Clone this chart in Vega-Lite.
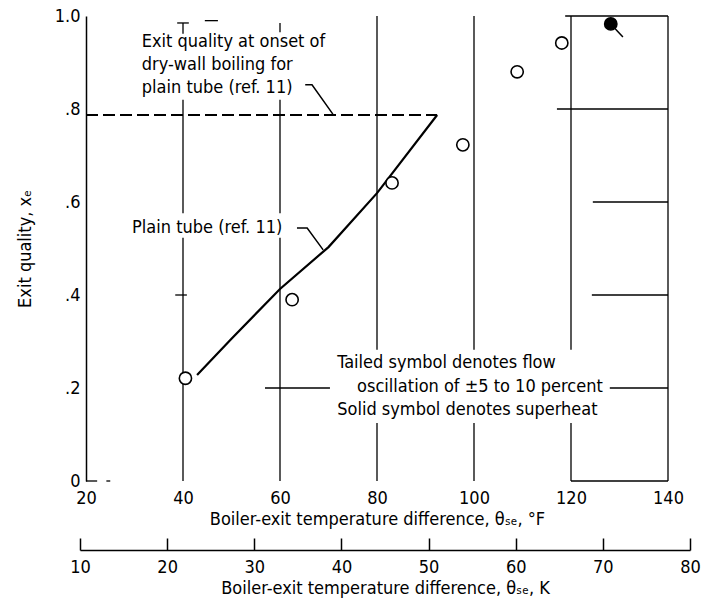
{
  "$schema": "https://vega.github.io/schema/vega-lite/v6.json",
  "width": 582,
  "height": 465,
  "autosize": "none",
  "padding": {"left": 86, "top": 16, "right": 33, "bottom": 126},
  "background": "white",
  "config": {
    "font": "DejaVu Sans Condensed",
    "view": {"stroke": null},
    "axis": {"labelColor": "black", "titleColor": "black", "titleFontWeight": "normal", "labelFont": "DejaVu Sans Condensed", "titleFont": "DejaVu Sans Condensed", "domainColor": "black", "tickColor": "black", "labelFlush": false, "labelOverlap": false}
  },
  "datasets": {
    "points": [
      {"theta": 40.5, "xe": 0.221, "kind": "open"},
      {"theta": 62.5, "xe": 0.39, "kind": "open"},
      {"theta": 83.1, "xe": 0.641, "kind": "open"},
      {"theta": 97.7, "xe": 0.723, "kind": "open"},
      {"theta": 108.9, "xe": 0.88, "kind": "open"},
      {"theta": 118.1, "xe": 0.942, "kind": "open"},
      {"theta": 128.2, "xe": 0.983, "kind": "solid"}
    ],
    "plain": [
      {"theta": 42.9, "xe": 0.228},
      {"theta": 50, "xe": 0.306},
      {"theta": 60, "xe": 0.413},
      {"theta": 70, "xe": 0.503},
      {"theta": 80, "xe": 0.619},
      {"theta": 92.4, "xe": 0.787}
    ],
    "dryout": [
      {"theta": 20, "xe": 0.787},
      {"theta": 92.4, "xe": 0.787}
    ],
    "leaders": [
      {"id": "a", "ord": 1, "theta": 65.2, "xe": 0.852},
      {"id": "a", "ord": 2, "theta": 66.6, "xe": 0.852},
      {"id": "a", "ord": 3, "theta": 70.9, "xe": 0.789},
      {"id": "b", "ord": 1, "theta": 63.5, "xe": 0.544},
      {"id": "b", "ord": 2, "theta": 65.6, "xe": 0.544},
      {"id": "b", "ord": 3, "theta": 68.9, "xe": 0.497},
      {"id": "tail", "ord": 1, "theta": 128.2, "xe": 0.983},
      {"id": "tail", "ord": 2, "theta": 130.7, "xe": 0.955}
    ],
    "grid": [
      {"theta": 40, "theta2": 40, "xe": 0.985, "xe2": 0.962},
      {"theta": 38.8, "theta2": 41.2, "xe": 0.985, "xe2": 0.985},
      {"theta": 44.5, "theta2": 47.2, "xe": 0.99, "xe2": 0.99},
      {"theta": 40, "theta2": 40, "xe": 0.82, "xe2": 0.576},
      {"theta": 40, "theta2": 40, "xe": 0.523, "xe2": 0},
      {"theta": 60, "theta2": 60, "xe": 0.985, "xe2": 0.965},
      {"theta": 60, "theta2": 60, "xe": 0.82, "xe2": 0.576},
      {"theta": 60, "theta2": 60, "xe": 0.523, "xe2": 0},
      {"theta": 80, "theta2": 80, "xe": 1.0, "xe2": 0.282},
      {"theta": 80, "theta2": 80, "xe": 0.125, "xe2": 0},
      {"theta": 100, "theta2": 100, "xe": 1.0, "xe2": 0.282},
      {"theta": 100, "theta2": 100, "xe": 0.125, "xe2": 0},
      {"theta": 120, "theta2": 120, "xe": 1.0, "xe2": 0.282},
      {"theta": 120, "theta2": 120, "xe": 0.125, "xe2": 0},
      {"theta": 140, "theta2": 140, "xe": 1.0, "xe2": 0},
      {"theta": 118.8, "theta2": 140, "xe": 1.0, "xe2": 1.0},
      {"theta": 117.1, "theta2": 140, "xe": 0.8, "xe2": 0.8},
      {"theta": 124.5, "theta2": 140, "xe": 0.6, "xe2": 0.6},
      {"theta": 124.3, "theta2": 140, "xe": 0.4, "xe2": 0.4},
      {"theta": 128.0, "theta2": 140, "xe": 0.2, "xe2": 0.2},
      {"theta": 56.9, "theta2": 70.3, "xe": 0.2, "xe2": 0.2},
      {"theta": 120, "theta2": 140, "xe": 0, "xe2": 0},
      {"theta": 20, "theta2": 22.3, "xe": 0, "xe2": 0},
      {"theta": 24.2, "theta2": 25.0, "xe": 0.0, "xe2": 0.0},
      {"theta": 38.4, "theta2": 40.8, "xe": 0.4, "xe2": 0.4}
    ],
    "notes": [
      {"label": "Exit quality at onset of", "theta": 31.5, "xe": 0.944},
      {"label": "dry-wall boiling for", "theta": 31.5, "xe": 0.894},
      {"label": "plain tube (ref. 11)", "theta": 31.5, "xe": 0.845},
      {"label": "Plain tube (ref. 11)", "theta": 29.5, "xe": 0.544},
      {"label": "Tailed symbol denotes flow", "theta": 71.8, "xe": 0.254},
      {"label": "oscillation of ±5 to 10 percent", "theta": 75.9, "xe": 0.202},
      {"label": "Solid symbol denotes superheat", "theta": 71.8, "xe": 0.153}
    ],
    "kelvin": [{"K": 10}, {"K": 80}]
  },
  "layer": [
    {
      "encoding": {
        "x": {"field": "theta", "type": "quantitative", "scale": {"domain": [20, 140], "nice": false, "zero": false},
          "axis": {"values": [20, 40, 60, 80, 100, 120, 140], "domain": false, "ticks": false, "grid": false, "labelPadding": 8, "labelFontSize": 18, "title": "Boiler-exit temperature difference, θₛₑ, °F", "titleFontSize": 18, "titlePadding": 3}},
        "y": {"field": "xe", "type": "quantitative", "scale": {"domain": [0, 1], "nice": false},
          "axis": {"values": [0, 0.2, 0.4, 0.6, 0.8, 1], "labelExpr": "datum.value == 0 ? '0' : replace(format(datum.value, '.1f'), '0.', '.')", "ticks": false, "grid": false, "domainWidth": 1.5, "labelPadding": 6, "labelFontSize": 18, "title": "Exit quality, xₑ", "titleFontSize": 18, "titlePadding": 20}}
      },
      "layer": [
        {
          "data": {"name": "grid"},
          "mark": {"type": "rule", "color": "black", "strokeWidth": 1.3},
          "encoding": {
            "x2": {"field": "theta2"},
            "y2": {"field": "xe2"}
          }
        },
        {
          "data": {"name": "dryout"},
          "mark": {"type": "line", "color": "black", "strokeWidth": 2, "strokeDash": [12, 5]}
        },
        {
          "data": {"name": "plain"},
          "mark": {"type": "line", "color": "black", "strokeWidth": 2.2}
        },
        {
          "data": {"name": "leaders"},
          "mark": {"type": "line", "color": "black", "strokeWidth": 1.5},
          "encoding": {
            "detail": {"field": "id"},
            "order": {"field": "ord"}
          }
        },
        {
          "data": {"name": "points"},
          "mark": {"type": "point", "shape": "circle", "filled": true, "stroke": "black", "strokeWidth": 1.6, "size": 150, "opacity": 1},
          "encoding": {
            "fill": {"field": "kind", "type": "nominal", "scale": {"domain": ["open", "solid"], "range": ["white", "black"]}, "legend": null}
          }
        },
        {
          "data": {"name": "notes"},
          "mark": {"type": "text", "align": "left", "baseline": "middle", "fontSize": 18, "color": "black"},
          "encoding": {
            "text": {"field": "label"}
          }
        }
      ]
    },
    {
      "data": {"name": "kelvin"},
      "mark": {"type": "point", "opacity": 0},
      "encoding": {
        "x": {"field": "K", "type": "quantitative", "scale": {"domain": [10, 80], "range": [-6, 604], "nice": false, "zero": false},
          "axis": {"values": [10, 20, 30, 40, 50, 60, 70, 80], "orient": "bottom", "offset": 69, "grid": false, "tickSize": -12, "domainWidth": 1.5, "tickWidth": 1.5, "labelPadding": 20, "labelFontSize": 18, "title": "Boiler-exit temperature difference, θₛₑ, K", "titleFontSize": 18, "titlePadding": 3}}
      }
    }
  ],
  "resolve": {"scale": {"x": "independent"}, "axis": {"x": "independent"}}
}
